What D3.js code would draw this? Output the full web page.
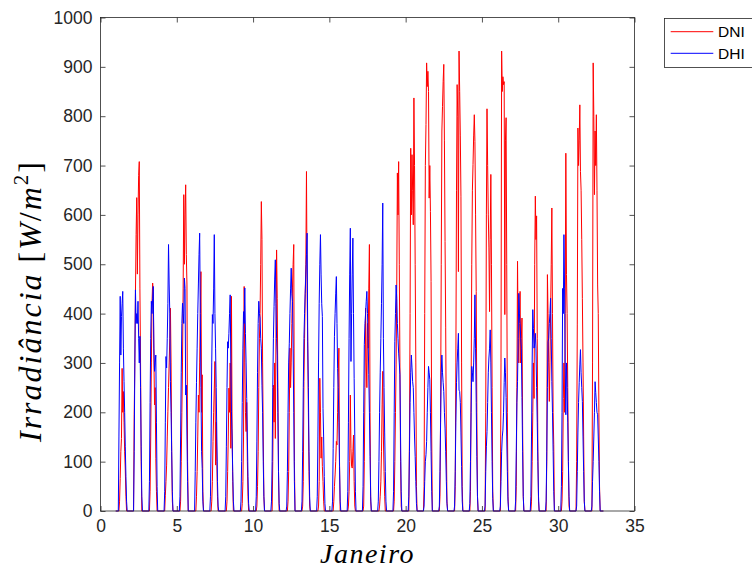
<!DOCTYPE html>
<html>
<head>
<meta charset="utf-8">
<script src="https://cdn.jsdelivr.net/npm/d3@7"></script>
<style>
  body { margin: 0; background: #fff; }
  svg { display: block; }
</style>
</head>
<body>
<svg width="752" height="572"></svg>
<script>
// hourly irradiance for each day, hours 5..17 (night hours are 0)
var days = [1,2,3,4,5,6,7,8,9,10,11,12,13,14,15,16,17,18,19,20,21,22,23,24,25,26,27,28,29,30,31,32];
var dayHours = [5,6,7,8,9,10,11,12,13,14,15,16,17];

var dniDaily = [
  [0,20,66,120,147,289,200,242,180,120,83,30,0],
  [195,300,445,560,635,480,600,680,708,450,300,100,0],
  [0,40,150,300,420,462,445,310,215,250,107,40,0],
  [0,32,60,93,150,201,250,300,350,411,300,120,20],
  [0,20,100,200,300,450,641,500,600,661,520,458,100],
  [0,0,30,80,150,235,200,300,400,485,200,276,40],
  [0,0,20,60,141,200,249,303,93,180,100,30,0],
  [0,0,20,80,150,249,200,300,127,435,168,60,0],
  [0,0,15,60,150,455,300,200,161,220,100,30,0],
  [0,10,50,120,250,350,400,500,627,550,300,154,30],
  [0,0,100,255,180,300,147,350,529,431,250,80,0],
  [0,0,20,80,200,330,250,300,380,452,500,540,100],
  [0,10,60,262,350,438,500,688,450,330,200,80,10],
  [0,0,10,60,269,200,107,150,90,60,20,0,0],
  [0,0,20,50,73,100,141,134,200,280,330,100,0],
  [0,10,40,100,235,127,90,87,120,154,60,10,0],
  [0,10,100,250,411,300,250,380,330,450,540,200,20],
  [0,0,10,30,59,120,215,283,150,80,30,0,0],
  [0,20,100,200,296,450,685,600,708,500,300,100,10],
  [0,150,400,735,600,722,650,580,837,700,500,300,50],
  [50,400,700,783,908,860,891,850,634,700,607,465,150],
  [0,30,200,500,770,820,870,905,750,546,371,150,20],
  [0,50,300,650,864,800,485,932,850,760,638,300,50],
  [0,40,250,500,650,702,760,803,749,600,445,200,30],
  [0,200,600,815,700,600,533,404,550,682,500,250,40],
  [0,300,932,850,880,864,870,398,750,797,500,200,30],
  [0,50,250,506,350,300,380,445,300,350,391,174,30],
  [0,20,100,200,300,228,500,638,550,598,350,120,20],
  [0,100,479,400,300,222,300,400,500,614,400,200,134],
  [0,20,80,228,300,200,400,725,479,400,250,100,10],
  [100,377,776,700,750,823,688,650,550,431,300,150,20],
  [0,300,908,800,641,770,700,803,650,458,400,200,50]
];

var dhiDaily = [
  [150,300,435,316,394,420,445,330,262,200,130,70,20],
  [120,300,448,380,400,380,425,350,300,354,250,130,30],
  [60,220,350,425,400,430,455,330,283,300,316,180,50],
  [40,180,313,290,350,420,540,460,401,262,200,120,40],
  [30,150,280,380,421,400,380,472,451,235,255,150,60],
  [80,180,260,330,400,460,520,563,400,250,120,86,20],
  [30,150,300,398,380,450,560,400,330,250,150,60,10],
  [30,130,250,343,330,360,400,438,300,201,150,80,20],
  [20,100,220,330,404,380,452,360,300,228,150,70,15],
  [30,140,280,380,425,400,391,350,330,255,200,100,30],
  [20,100,250,350,414,470,509,420,350,316,200,80,15],
  [10,80,200,300,340,400,450,492,440,425,330,200,60],
  [20,120,250,350,400,441,480,520,563,343,250,120,30],
  [30,150,300,420,500,560,480,420,394,208,150,70,15],
  [20,127,250,354,400,440,475,380,289,250,180,90,20],
  [40,180,350,480,573,303,400,480,553,400,269,150,40],
  [50,200,337,380,400,425,445,400,350,276,200,110,30],
  [20,100,200,280,350,420,500,624,350,250,160,80,20],
  [40,200,343,400,458,431,380,350,320,300,276,150,40],
  [30,120,220,280,316,290,262,250,200,150,110,60,15],
  [10,60,100,114,141,200,250,293,280,266,200,120,40],
  [10,80,180,280,316,280,260,242,200,168,120,60,15],
  [10,80,180,260,300,330,360,245,242,220,160,90,20],
  [15,100,200,293,280,262,300,350,438,330,220,110,30],
  [10,80,130,161,220,280,310,330,367,300,200,100,25],
  [10,60,120,150,164,200,260,310,280,230,150,80,20],
  [20,120,220,262,350,441,400,380,350,330,230,120,30],
  [30,150,300,408,370,330,340,360,330,250,180,100,30],
  [20,120,250,343,350,380,400,431,350,262,200,120,40],
  [50,200,451,400,560,450,296,195,300,250,180,100,30],
  [10,80,160,220,260,296,327,280,250,222,150,80,20],
  [10,60,100,150,200,262,240,220,200,195,150,100,40]
];

var seriesNames = ["DNI", "DHI"];
var seriesColors = ["#ff0000", "#0000ff"];
var xTicks = [0,5,10,15,20,25,30,35];
var yTicks = [0,100,200,300,400,500,600,700,800,900,1000];

// turn the daily blocks into one continuous hourly series
function hourly(daily) {
  var pts = [];
  days.forEach(function(d, i) {
    for (var h = 0; h < 24; h++) {
      var k = dayHours.indexOf(h);
      pts.push({x: d + h / 24, v: k < 0 ? 0 : daily[i][k]});
    }
  });
  return pts;
}

var svg = d3.select("svg");
var plotL = 100.5, plotR = 634.5, plotT = 17.5, plotB = 511;

var x = d3.scaleLinear().domain([0, 35]).range([plotL, plotR]);
var y = d3.scaleLinear().domain([0, 1000]).range([plotB, plotT]);

var axisColor = "#262626";
var tickFont = "Liberation Sans, Arial, sans-serif";

// plot lines
var line = d3.line()
    .x(function(d) { return x(d.x); })
    .y(function(d) { return y(d.v); });

[dniDaily, dhiDaily].forEach(function(daily, i) {
  svg.append("path")
      .datum(hourly(daily))
      .attr("fill", "none")
      .attr("stroke", seriesColors[i])
      .attr("stroke-width", 1)
      .attr("stroke-linejoin", "round")
      .attr("d", line);
});

// axes (ticks inside, box on)
var gx = svg.append("g").attr("transform", "translate(0," + plotB + ")")
    .call(d3.axisBottom(x).tickValues(xTicks).tickSizeInner(-5).tickSizeOuter(0).tickPadding(9).tickFormat(d3.format("d")));
var gxt = svg.append("g").attr("transform", "translate(0," + plotT + ")")
    .call(d3.axisTop(x).tickValues(xTicks).tickSizeInner(-5).tickSizeOuter(0).tickFormat(""));
var gy = svg.append("g").attr("transform", "translate(" + plotL + ",0)")
    .call(d3.axisLeft(y).tickValues(yTicks).tickSizeInner(-5).tickSizeOuter(0).tickPadding(8).tickFormat(d3.format("d")));
var gyr = svg.append("g").attr("transform", "translate(" + plotR + ",0)")
    .call(d3.axisRight(y).tickValues(yTicks).tickSizeInner(-5).tickSizeOuter(0).tickFormat(""));

[gx, gxt, gy, gyr].forEach(function(g) {
  g.select(".domain").remove();
  g.selectAll("line").attr("stroke", axisColor).attr("stroke-width", 0.8);
  g.selectAll("text")
      .attr("fill", axisColor)
      .style("font-family", tickFont)
      .style("font-size", "17.5px");
});

svg.append("rect")
    .attr("x", plotL).attr("y", plotT)
    .attr("width", plotR - plotL).attr("height", plotB - plotT)
    .attr("fill", "none")
    .attr("stroke", axisColor)
    .attr("stroke-width", 0.8);

// axis labels
svg.append("text")
    .attr("x", (plotL + plotR) / 2)
    .attr("y", 563)
    .attr("text-anchor", "middle")
    .style("font-family", "Liberation Serif, serif")
    .style("font-style", "italic")
    .style("font-size", "28px")
    .style("letter-spacing", "1.5px")
    .attr("fill", "#000")
    .text("Janeiro");

var yl = svg.append("text")
    .attr("transform", "translate(41,301) rotate(-90)")
    .attr("text-anchor", "middle")
    .style("font-family", "Liberation Serif, serif")
    .style("font-size", "32px")
    .style("letter-spacing", "2px")
    .attr("fill", "#000");
yl.append("tspan").style("font-style", "italic").text("Irradiância");
yl.append("tspan").text(" [");
yl.append("tspan").style("font-style", "italic").text("W");
yl.append("tspan").text("/");
yl.append("tspan").style("font-style", "italic").text("m");
yl.append("tspan").attr("dy", -13).style("font-size", "21px").text("2");
yl.append("tspan").attr("dy", 13).text("]");

// legend
var lg = svg.append("g");
lg.append("rect")
    .attr("x", 664.5).attr("y", 18.5)
    .attr("width", 100).attr("height", 49)
    .attr("fill", "#fff")
    .attr("stroke", axisColor)
    .attr("stroke-width", 0.8);

seriesNames.forEach(function(name, i) {
  var ly = 31.7 + i * 21.6;
  lg.append("line")
      .attr("x1", 670.7).attr("x2", 713.3)
      .attr("y1", ly).attr("y2", ly)
      .attr("stroke", seriesColors[i])
      .attr("stroke-width", 1);
  lg.append("text")
      .attr("x", 718)
      .attr("y", ly)
      .attr("dy", "0.35em")
      .style("font-family", tickFont)
      .style("font-size", "15.5px")
      .attr("fill", "#000")
      .text(name);
});
</script>
</body>
</html>
